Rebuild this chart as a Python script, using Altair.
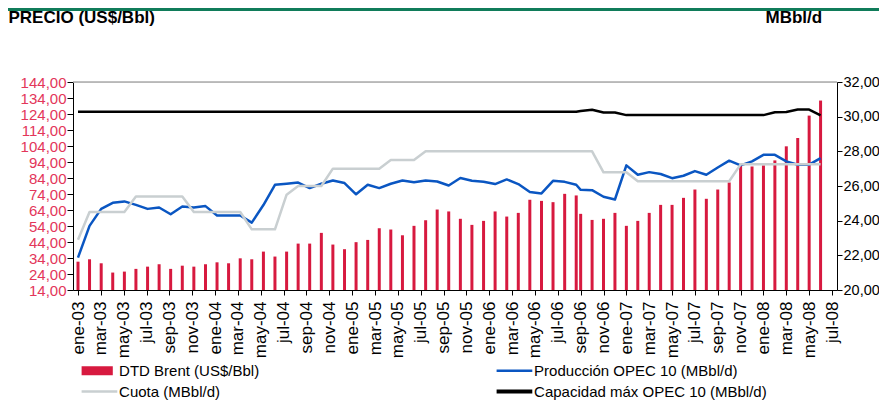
import json
import altair as alt
import pandas as pd

# ---------------- data ----------------
# x position of each monthly observation, in months from ene-03
month_pos = [0.00, 1.01, 2.03, 3.04, 4.06, 5.07, 6.09, 7.10, 8.11, 9.13,
             10.14, 11.16, 12.17, 13.18, 14.20, 15.21, 16.23, 17.24, 18.26, 19.27,
             20.28, 21.30, 22.31, 23.33, 24.34, 25.36, 26.37, 27.38, 28.40, 29.41,
             30.43, 31.44, 32.45, 33.47, 34.48, 35.50, 36.51, 37.53, 38.54, 39.55,
             40.57, 41.58, 42.60, 43.61, 44, 45, 46, 47, 48, 49,
             50, 51, 52, 53, 54, 55, 56, 57, 58, 59,
             60, 61, 62, 63, 64, 65]

tick_labels = ["ene-03", "mar-03", "may-03", "jul-03", "sep-03", "nov-03",
               "ene-04", "mar-04", "may-04", "jul-04", "sep-04", "nov-04",
               "ene-05", "mar-05", "may-05", "jul-05", "sep-05", "nov-05",
               "ene-06", "mar-06", "may-06", "jul-06", "sep-06", "nov-06",
               "ene-07", "mar-07", "may-07", "jul-07", "sep-07", "nov-07",
               "ene-08", "mar-08", "may-08", "jul-08"]

brent = [31.7, 33.2, 30.7, 24.9, 25.5, 27.2, 28.6, 30.1, 27.2, 29.2,
         28.6, 30.1, 31.3, 30.7, 33.8, 33.2, 38.0, 34.9, 38.0, 43.0,
         43.0, 49.7, 42.4, 39.5, 43.9, 45.3, 52.6, 51.8, 48.2, 54.1,
         57.6, 64.3, 63.1, 58.5, 54.7, 57.2, 63.1, 59.9, 62.2, 70.4,
         69.7, 68.9, 74.1, 73.1, 61.6, 57.8, 58.5, 62.2, 54.1, 57.2,
         62.2, 67.2, 67.2, 71.6, 76.8, 71.0, 76.8, 81.2, 91.9, 91.2,
         91.9, 95.0, 103.8, 109.0, 123.0, 132.4]

produccion = [21.87, 23.70, 24.68, 25.03, 25.11, 24.91, 24.68, 24.76, 24.37, 24.82,
              24.76, 24.84, 24.30, 24.30, 24.30, 23.89, 24.90, 26.07, 26.13, 26.20,
              25.88, 26.13, 26.32, 26.17, 25.52, 26.07, 25.88, 26.13, 26.32, 26.22,
              26.32, 26.26, 26.03, 26.46, 26.30, 26.24, 26.11, 26.38, 26.11, 25.65,
              25.57, 26.30, 26.24, 26.07, 25.78, 25.76, 25.38, 25.22, 27.19, 26.65,
              26.80, 26.69, 26.45, 26.59, 26.86, 26.65, 27.07, 27.46, 27.19, 27.42,
              27.80, 27.80, 27.42, 27.23, 27.23, 27.61]

cuota = [22.90, 24.50, 24.50, 24.50, 24.50, 25.40, 25.40, 25.40, 25.40, 25.40,
         24.50, 24.50, 24.50, 24.50, 24.50, 23.50, 23.50, 23.50, 25.50, 26.00,
         26.00, 26.00, 27.00, 27.00, 27.00, 27.00, 27.00, 27.50, 27.50, 27.50,
         28.00, 28.00, 28.00, 28.00, 28.00, 28.00, 28.00, 28.00, 28.00, 28.00,
         28.00, 28.00, 28.00, 28.00, 28.00, 28.00, 26.79, 26.79, 26.79, 26.27,
         26.27, 26.27, 26.27, 26.27, 26.27, 26.27, 26.27, 26.27, 27.25, 27.25,
         27.25, 27.25, 27.25, 27.25, 27.25, 27.25]

capacidad = [30.29] * 44 + [30.33, 30.40, 30.24, 30.24, 30.09, 30.09,
                            30.09, 30.09, 30.09, 30.09, 30.09, 30.09, 30.09, 30.09, 30.09, 30.09,
                            30.09, 30.25, 30.27, 30.41, 30.41, 30.08]

series_names = ["DTD Brent (US$/Bbl)", "Producción OPEC 10 (MBbl/d)",
                "Cuota (MBbl/d)", "Capacidad máx OPEC 10 (MBbl/d)"]
series_colors = ["#D7193F", "#0A56C2", "#C9CFD1", "#000000"]
line_widths = [2.5, 2.5, 4]
# legend symbol outlines (unit = 6 px): bar swatch, then the three line swatches
legend_shapes = ["M-1.1,-0.75H4.1V0.75H-1.1Z",
                 "M-1.1,-0.2H4.85V0.2H-1.1Z",
                 "M-1.1,-0.2H4.85V0.2H-1.1Z",
                 "M-1.1,-0.32H4.85V0.32H-1.1Z"]

left_ticks = list(range(14, 145, 10))
right_ticks = list(range(20, 33, 2))

# ---------------- tables ----------------
bars_df = pd.DataFrame({"pos": month_pos, "valor": brent, "serie": series_names[0]})
lines_df = pd.concat([
    pd.DataFrame({"pos": month_pos, "valor": vals, "serie": name})
    for name, vals in zip(series_names[1:], [produccion, cuota, capacidad])
], ignore_index=True)
top_df = pd.DataFrame({"valor": [144]})

FONT = "Liberation Sans"

color_map = json.dumps(dict(zip(series_names, series_colors)), ensure_ascii=False)
shape_map = json.dumps(dict(zip(series_names, legend_shapes)), ensure_ascii=False)

legend = alt.Legend(
    title=None, orient="none", legendX=7.7, legendY=281, direction="horizontal",
    columns=2, columnPadding=236, rowPadding=5, padding=0,
    symbolSize=144, labelFontSize=15, labelFont=FONT, labelColor="#000000",
    labelLimit=400, labelOffset=23.4,
    symbolType=alt.ExprRef(expr=f"{shape_map}[datum.value]"),
    symbolFillColor=alt.ExprRef(expr=f"{color_map}[datum.value]"),
    symbolStrokeColor="transparent",
    symbolStrokeWidth=0,
    symbolOpacity=1,
)
color = alt.Color("serie:N", scale=alt.Scale(domain=series_names, range=series_colors), legend=legend)

x_axis = alt.Axis(
    values=list(range(0, 67, 2)), labelExpr=f"{json.dumps(tick_labels)}[round(datum.value/2)]",
    labelAngle=270, labelFontSize=17, labelFont=FONT, labelColor="#000000", labelPadding=6,
    tickSize=5, tickColor="#000000", domainColor="#000000", grid=False, title=None,
    labelOverlap=False,
)
x_enc = alt.X("pos:Q", scale=alt.Scale(domain=[0, 66], nice=False, zero=False), axis=x_axis)

num_expr = "replace(format(datum.value, '.2f'), '.', ',')"

left_axis = alt.Axis(values=left_ticks, labelExpr=num_expr, labelColor="#E3365A",
                     labelFontSize=15, labelFont=FONT, labelPadding=1, labelOverlap=False,
                     tickSize=6, tickColor="#000000", domainColor="#000000", grid=False,
                     title="PRECIO (US$/Bbl)", titleAngle=0, titleAlign="left",
                     titleBaseline="middle", titleX=-65, titleY=-65,
                     titleFont=FONT, titleFontSize=17, titleFontWeight="bold",
                     titleColor="#000000")
left_scale = alt.Scale(domain=[14, 144], nice=False, zero=False)

bars = alt.Chart(bars_df).mark_bar(size=3, color=series_colors[0]).encode(
    x=x_enc,
    y=alt.Y("valor:Q", scale=left_scale, axis=left_axis),
    y2=alt.datum(14),
    color=color,
)

top_rule = alt.Chart(top_df).mark_rule(color="#ABABAB", strokeWidth=1.6).encode(
    y=alt.Y("valor:Q", scale=left_scale, axis=left_axis)
)

band = alt.Chart(pd.DataFrame({"a": [0]})).mark_rule(color="#107C5A", strokeWidth=3).encode(
    x=alt.value(-65), x2=alt.value(806), y=alt.value(-72.5)
)

left = alt.layer(bars, top_rule, band)

lines = alt.Chart(lines_df).mark_line(strokeJoin="round").encode(
    x=x_enc,
    y=alt.Y("valor:Q", scale=alt.Scale(domain=[20, 32], nice=False, zero=False),
            axis=alt.Axis(orient="right", values=right_ticks, labelExpr=num_expr,
                          labelColor="#000000", labelFontSize=14.5, labelFont=FONT, labelPadding=1,
                          labelOverlap=False,
                          tickSize=5, tickColor="#000000", domainColor="#000000", grid=False,
                          title="MBbl/d", titleAngle=0, titleAlign="left",
                          titleBaseline="middle", titleX=-72, titleY=-65,
                          titleFont=FONT, titleFontSize=17, titleFontWeight="bold",
                          titleColor="#000000")),
    color=color,
    strokeWidth=alt.StrokeWidth("serie:N", scale=alt.Scale(domain=series_names[1:], range=line_widths),
                                legend=None),
    order=alt.Order("pos:Q"),
)

chart = alt.layer(left, lines).resolve_scale(y="independent").properties(
    width=764, height=208,
    padding={"left": 65, "top": 74, "right": 42, "bottom": 111},
    autosize=alt.AutoSizeParams(type="none"),
    background="#FFFFFF",
).configure_view(stroke=None).configure(font=FONT)

chart.save("out.html", embed_options={"renderer": "svg", "actions": False})
